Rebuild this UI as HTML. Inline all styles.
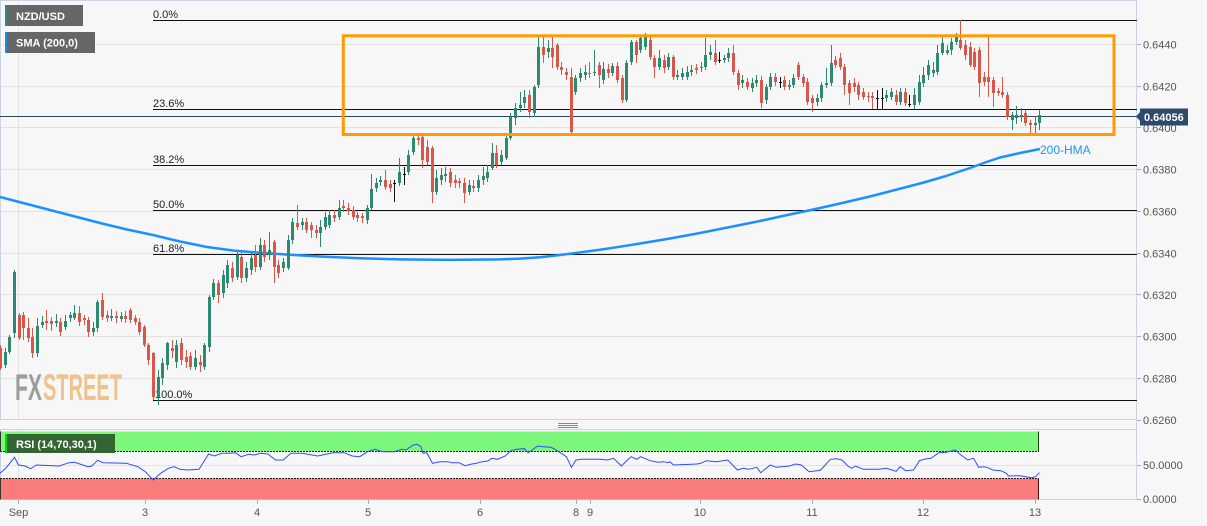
<!DOCTYPE html>
<html><head><meta charset="utf-8">
<style>
html,body{margin:0;padding:0;background:#f7f7f7;}
svg{display:block;font-family:"Liberation Sans",Arial,sans-serif;}
</style></head><body>
<svg width="1207" height="526" viewBox="0 0 1207 526" xmlns="http://www.w3.org/2000/svg">
<rect width="1207" height="526" fill="#f7f7f7"/>
<!-- grid -->
<g stroke="#e3e3e3" stroke-width="1" fill="none">
<path d="M0 44.5H1137M0 86.5H1137M0 127.5H1137M0 169.5H1137M0 211.5H1137M0 253.5H1137M0 294.5H1137M0 336.5H1137M0 378.5H1137"/>
<path d="M18.5 0V420M18.5 430V500"/>
<path d="M0 465.5H1137"/>
</g>
<!-- frames -->
<g stroke="#ccd4e4" stroke-width="1" fill="none">
<path d="M0.5 0V420M0 0.5H1137M1136.5 0V500M0 419.5H1137M0 429.5H1137M0 499.5H1137M0.5 430V500"/>
</g>
<path d="M558 423.5H578M558 425.5H578M558 427.5H578" stroke="#888" stroke-width="1"/>

<!-- fib lines -->
<path d="M153 20.5H1137M153 109.5H1137M153 165.5H1137M153 210.5H1137M153 254.5H1137M153 400.5H1137" stroke="#111" stroke-width="1"/>
<g font-size="11" fill="#222">
<text x="153" y="18">0.0%</text>
<text x="153" y="107">23.6%</text>
<text x="153" y="163">38.2%</text>
<text x="153" y="208">50.0%</text>
<text x="153" y="252">61.8%</text>
<text x="155" y="398">100.0%</text>
</g>

<!-- FXSTREET watermark -->
<g font-weight="bold" font-size="37">
<text x="15" y="400" fill="#9d9d9d" textLength="27" lengthAdjust="spacingAndGlyphs">FX</text>
<text x="43" y="400" fill="#f0c28e" textLength="79" lengthAdjust="spacingAndGlyphs">STREET</text>
</g>

<!-- SMA / HMA line -->
<path d="M0 197L25 203.5L50 210L75 216.5L100 223L127 229.5L153 235L180 241.5L207 247L233 250.5L260 252.8L290 254.8L320 256.5L360 258.3L400 259.4L450 259.9L500 259.4L520 258.6L540 257.2L555 255.6L570 253.7L585 251.8L600 249.8L620 246.7L640 243.5L670 238.5L700 233L730 227L760 221L785 215.5L811 210L840 203.5L870 196.5L895 190L922 183L946 176L970 168L985 162.5L1000 157.5L1020 153L1040 149" fill="none" stroke="#1e8fff" stroke-width="2.5" stroke-linejoin="round"/>
<text x="1040" y="154" font-size="12" fill="#2196f3">200-HMA</text>

<!-- current price line -->
<path d="M0 116.5H1137" stroke="#2c4a6e" stroke-width="1"/>

<!-- candles -->
<g fill="none">
<path stroke="#2e8a6e" stroke-width="1" d="M5.5 348V368 M9.5 335V354 M14.5 270V338 M37.5 318V357 M42.5 316V328 M56.5 314V327 M65.5 315V330 M70.5 312V322 M74.5 305V320 M93.5 322V336 M97.5 300V332 M111.5 309V321 M121.5 312V322 M158.5 370V405 M162.5 358V385 M167.5 342V370 M176.5 340V368 M195.5 350V370 M204.5 343V370 M209.5 295V352 M213.5 279V300 M223.5 270V298 M227.5 260V288 M237.5 252V280 M246.5 262V282 M251.5 252V275 M260.5 238V270 M269.5 232V260 M283.5 258V272 M288.5 235V270 M292.5 218V244 M302.5 218V230 M320.5 220V247 M325.5 212V230 M329.5 210V228 M339.5 200V220 M367.5 205V224 M371.5 174V210 M376.5 178V192 M380.5 176V186 M399.5 158V186 M408.5 150V175 M413.5 133V155 M436.5 170V195 M441.5 168V185 M445.5 167V182 M469.5 180V195 M478.5 175V192 M483.5 167V185 M487.5 165V182 M492.5 143V170 M501.5 150V165 M506.5 135V160 M510.5 113V140 M515.5 103V125 M520.5 92V112 M524.5 90V108 M534.5 85V117 M538.5 37V88 M548.5 40V58 M575.5 75V95 M580.5 68V82 M585.5 65V80 M594.5 50V76 M603.5 62V84 M612.5 63V76 M626.5 60V102 M631.5 40V65 M640.5 35V53 M645.5 33V50 M659.5 50V70 M668.5 53V70 M677.5 70V80 M682.5 68V80 M687.5 66V80 M691.5 65V76 M701.5 62V72 M705.5 38V70 M710.5 45V60 M724.5 55V63 M728.5 48V62 M742.5 75V88 M752.5 78V92 M756.5 75V87 M766.5 84V104 M770.5 73V90 M789.5 80V90 M793.5 74V88 M817.5 94V106 M821.5 82V102 M826.5 68V88 M831.5 45V86 M886.5 90V102 M891.5 88V100 M900.5 88V105 M914.5 88V109 M919.5 75V105 M923.5 67V87 M928.5 60V80 M933.5 62V77 M937.5 45V75 M942.5 35V55 M947.5 45V55 M951.5 38V55 M956.5 33V45 M1012.5 112V130 M1016.5 106V124 M1021.5 108V122 M1035.5 116V133 M1039.5 110V130"/>
<path stroke="#2e8a6e" stroke-width="3" d="M5.5 352V365 M9.5 337V352 M14.5 272V333 M37.5 326V353 M42.5 322V325 M56.5 321V323 M65.5 321V327 M70.5 315V318 M74.5 313V318 M93.5 328V332 M97.5 302V328 M111.5 316V318 M121.5 316V319 M158.5 377V397 M162.5 363V378 M167.5 343V365 M176.5 345V362 M195.5 358V367 M204.5 345V367 M209.5 297V347 M213.5 283V297 M223.5 275V293 M227.5 265V283 M237.5 255V277 M246.5 268V278 M251.5 258V270 M260.5 245V267 M269.5 250V255 M283.5 262V268 M288.5 240V268 M292.5 222V240 M302.5 222V225 M320.5 227V233 M325.5 217V227 M329.5 215V225 M339.5 208V217 M367.5 208V220 M371.5 189V208 M376.5 183V188 M380.5 180V182 M399.5 172V183 M408.5 155V172 M413.5 138V152 M436.5 178V192 M441.5 175V180 M445.5 174V176 M469.5 185V192 M478.5 180V188 M483.5 176V180 M487.5 172V178 M492.5 153V168 M501.5 155V162 M506.5 138V158 M510.5 117V138 M515.5 108V118 M520.5 105V108 M524.5 97V103 M534.5 87V113 M538.5 47V85 M548.5 48V52 M575.5 78V92 M580.5 73V78 M585.5 72V75 M594.5 72V73 M603.5 69V80 M612.5 66V73 M626.5 63V100 M631.5 42V62 M640.5 38V50 M645.5 37V47 M659.5 58V67 M668.5 57V67 M677.5 75V77 M682.5 73V77 M687.5 72V77 M691.5 70V72 M701.5 67V68 M705.5 55V67 M710.5 52V55 M724.5 58V60 M728.5 53V58 M742.5 80V83 M752.5 83V88 M756.5 80V83 M766.5 87V100 M770.5 77V87 M789.5 85V87 M793.5 78V85 M817.5 98V102 M821.5 85V98 M826.5 83V85 M831.5 63V83 M886.5 95V98 M891.5 92V97 M900.5 92V102 M914.5 95V105 M919.5 82V102 M923.5 75V83 M928.5 65V75 M933.5 70V73 M937.5 53V72 M942.5 43V53 M947.5 50V53 M951.5 42V50 M956.5 37V42 M1012.5 115V120 M1016.5 115V118 M1021.5 115V117 M1035.5 123V125 M1039.5 115V123"/>
<path stroke="#d9574a" stroke-width="1" d="M0.5 345V370 M19.5 313V340 M23.5 312V340 M28.5 318V342 M32.5 328V358 M46.5 310V330 M51.5 317V331 M60.5 318V336 M79.5 306V326 M84.5 315V325 M88.5 317V337 M102.5 293V320 M107.5 311V322 M116.5 311V323 M125.5 311V323 M130.5 308V323 M135.5 315V325 M139.5 318V335 M144.5 325V347 M148.5 343V365 M153.5 352V400 M172.5 340V358 M181.5 338V365 M186.5 350V368 M190.5 352V370 M200.5 355V372 M218.5 280V303 M232.5 262V282 M241.5 252V283 M255.5 245V272 M264.5 240V262 M274.5 240V283 M278.5 260V278 M297.5 205V230 M306.5 218V233 M311.5 222V238 M316.5 225V238 M334.5 210V222 M343.5 200V212 M348.5 203V215 M353.5 206V220 M357.5 212V222 M362.5 213V223 M385.5 170V190 M390.5 180V192 M418.5 134V145 M422.5 133V168 M427.5 140V165 M432.5 146V203 M450.5 168V187 M455.5 175V188 M459.5 178V188 M464.5 178V203 M473.5 180V192 M496.5 145V168 M529.5 90V118 M543.5 37V63 M552.5 37V68 M557.5 43V70 M561.5 62V75 M566.5 68V80 M571.5 68V133 M589.5 62V78 M599.5 62V88 M608.5 64V78 M617.5 62V83 M622.5 75V103 M636.5 40V63 M650.5 37V60 M654.5 55V78 M664.5 55V73 M673.5 55V80 M696.5 64V74 M715.5 40V65 M733.5 45V75 M738.5 70V90 M747.5 78V90 M761.5 76V108 M775.5 73V86 M784.5 76V90 M798.5 62V80 M803.5 74V87 M807.5 78V105 M812.5 95V112 M835.5 56V68 M840.5 53V70 M844.5 64V95 M849.5 80V105 M854.5 78V92 M858.5 82V100 M863.5 88V100 M868.5 92V102 M872.5 92V109 M896.5 90V105 M905.5 88V106 M960.5 20V50 M965.5 40V60 M970.5 42V67 M974.5 48V70 M979.5 47V97 M984.5 72V86 M988.5 35V97 M993.5 77V107 M998.5 88V96 M1002.5 77V98 M1007.5 92V120 M1025.5 110V126 M1030.5 120V133"/>
<path stroke="#d9574a" stroke-width="3" d="M0.5 348V368 M19.5 315V338 M23.5 315V328 M28.5 328V338 M32.5 337V353 M46.5 321V323 M51.5 321V324 M60.5 322V332 M79.5 313V322 M84.5 318V320 M88.5 320V332 M102.5 300V317 M107.5 315V318 M116.5 316V318 M125.5 316V319 M130.5 310V320 M135.5 318V322 M139.5 322V332 M144.5 327V345 M148.5 345V360 M153.5 353V397 M172.5 348V351 M181.5 343V360 M186.5 357V362 M190.5 356V367 M200.5 362V365 M218.5 283V295 M232.5 268V278 M241.5 257V278 M255.5 255V267 M264.5 245V257 M274.5 242V267 M278.5 265V273 M297.5 223V227 M306.5 222V230 M311.5 225V230 M316.5 230V233 M334.5 215V218 M343.5 206V208 M348.5 208V211 M353.5 210V217 M357.5 215V218 M362.5 216V218 M385.5 180V187 M390.5 184V188 M418.5 138V140 M422.5 137V160 M427.5 147V162 M432.5 148V192 M450.5 172V183 M455.5 180V183 M459.5 181V183 M464.5 183V193 M473.5 186V188 M496.5 153V165 M529.5 95V112 M543.5 47V55 M552.5 48V57 M557.5 45V67 M561.5 67V70 M566.5 72V75 M571.5 77V132 M589.5 73V74 M599.5 65V75 M608.5 69V73 M617.5 66V80 M622.5 78V100 M636.5 42V55 M650.5 40V57 M654.5 58V67 M664.5 60V68 M673.5 57V77 M696.5 68V70 M715.5 53V62 M733.5 53V72 M738.5 73V85 M747.5 82V87 M761.5 80V103 M775.5 77V82 M784.5 80V87 M798.5 65V77 M803.5 77V83 M807.5 82V102 M812.5 98V103 M835.5 60V65 M840.5 58V67 M844.5 67V85 M849.5 83V93 M854.5 83V87 M858.5 85V95 M863.5 92V97 M868.5 96V97 M872.5 96V98 M896.5 95V102 M905.5 92V103 M960.5 40V48 M965.5 45V55 M970.5 47V65 M974.5 52V67 M979.5 50V83 M984.5 77V82 M988.5 77V82 M993.5 80V93 M998.5 91V93 M1002.5 92V95 M1007.5 95V117 M1025.5 113V123 M1030.5 123V125"/>
<path stroke="#111" stroke-width="1" d="M394.5 180V202 M404.5 167V185 M719.5 52V63 M780.5 77V88 M877.5 90V109 M882.5 88V109 M909.5 95V107"/>
<path stroke="#111" stroke-width="3" d="M394.5 183V184 M404.5 174V175 M719.5 60V61 M780.5 82V83 M877.5 98V99 M882.5 98V99 M909.5 104V105"/>
</g>

<!-- orange rectangle -->
<rect x="343.3" y="35.8" width="770.7" height="98.7" fill="none" stroke="#ff9a00" stroke-width="3"/>

<!-- legends -->
<rect x="5" y="5" width="78" height="21" fill="#666"/>
<rect x="5" y="5" width="2" height="21" fill="#2e8a6e"/>
<text x="16" y="20" font-size="11" font-weight="bold" fill="#fff">NZD/USD</text>
<rect x="5" y="32" width="90" height="21" fill="#666"/>
<rect x="5" y="32" width="2" height="21" fill="#1e88e5"/>
<text x="16" y="46.5" font-size="11" font-weight="bold" fill="#fff">SMA (200,0)</text>

<!-- right axis -->
<g stroke="#aab" stroke-width="1">
<path d="M1137 44.5H1141M1137 86.5H1141M1137 127.5H1141M1137 169.5H1141M1137 211.5H1141M1137 253.5H1141M1137 294.5H1141M1137 336.5H1141M1137 378.5H1141M1137 420.5H1141M1137 465.5H1141M1137 499.5H1141"/>
</g>
<g font-size="11" fill="#555">
<text x="1143" y="48.5">0.6440</text>
<text x="1143" y="90.5">0.6420</text>
<text x="1143" y="132">0.6400</text>
<text x="1143" y="173.5">0.6380</text>
<text x="1143" y="215.5">0.6360</text>
<text x="1143" y="257.5">0.6340</text>
<text x="1143" y="299">0.6320</text>
<text x="1143" y="340.5">0.6300</text>
<text x="1143" y="382.5">0.6280</text>
<text x="1143" y="424">0.6260</text>
<text x="1143" y="469">50.0000</text>
<text x="1143" y="503">0.0000</text>
</g>
<path d="M1136 116.5L1141 111L1141 122Z" fill="#2c4a6e"/>
<rect x="1140" y="108.5" width="48" height="17" fill="#2c4a6e"/>
<text x="1144" y="121" font-size="11" font-weight="bold" fill="#fff">0.64056</text>

<!-- RSI pane -->
<rect x="0" y="431.5" width="1039" height="20" fill="#7cf77c"/>
<rect x="0" y="478.5" width="1039" height="21" fill="#fa7b7b"/>
<path d="M0 451.5H1039M0 478.5H1039" stroke="#222" stroke-width="1" stroke-dasharray="2,1"/>
<path d="M1038.5 431.5V451.5" stroke="#1b3d1b" stroke-width="1"/>
<path d="M1038.5 478.5V499.5" stroke="#3d1111" stroke-width="1"/>
<path d="M0.5 431.5V451.5M0.5 478.5V499.5" stroke="#333" stroke-width="1"/>
<polyline fill="none" stroke="#2f4cff" stroke-width="1" points="0,473.3 5.7,468.3 14.5,457.3 18.4,465 24.9,466 30.6,468.7 36.4,465 53.6,465.7 59.3,466 68.9,462.7 74.6,462.3 88,466.7 91.8,466 97.6,460.3 103.3,462.7 126.3,463.3 137.8,466.7 145.4,471.7 153.1,480 160.7,473.3 168.4,468.3 174.1,466.7 179.9,469.3 187.5,470 199,469.3 208.6,454 214.3,456 222,453.3 229.6,453.3 235.4,452.7 241.1,456.7 248.8,454.3 254.5,455 260.2,453.3 267.9,454 275.5,460 283.2,460 290.9,453.3 302.3,453.3 317.6,456 333,452.7 344.4,452.7 352.1,456 359.7,456.7 367.4,451.7 375,449.3 382.7,451.7 394.2,451.7 401.8,449.3 405.7,450 413.3,445 417.1,444.3 421,446.7 422.9,453.3 426.7,452.7 432.5,463.3 440.1,461.7 447.8,461.7 451.6,462.7 459.2,462.7 465,465.7 470.7,464.3 476.5,463.3 482.2,461.7 487.9,461 491.8,458.3 497.5,459.3 505.2,456 510.9,450.7 516.6,449.3 524.3,448.7 528.1,452.7 532,450 537.7,446 543.4,446.7 551.1,447.3 554.9,449.3 558.8,451.7 566.4,456.7 571.4,467.3 576,460 581.7,459.3 597,459.3 600,459.3 607.7,460 613.6,458.3 621.3,466 631,456.7 636.8,459.3 640.7,456.7 650.3,460.7 658.1,462.3 663.9,461.7 667.8,462.7 669.7,461.7 673.6,465 696.8,464 700.7,463.3 706.5,460.7 716.1,461.7 727.8,460 737.4,470 743.2,468.3 749,469.3 756.8,467.3 760.7,472.7 770.3,465 776.2,467.3 789.7,466 795.5,464 801.3,465 809.1,471.7 816.8,470.7 820.7,470 830.4,459.3 836.2,458.7 842,460 847.8,466 851.6,468.3 855.5,466 863.3,469.3 878.7,469.3 886.5,468.3 896.2,471.3 900,466.7 905.8,470.7 913.6,470 919.4,460.7 925.2,459 931,458.3 938.8,452.7 946.5,452.3 952.3,450.7 955.4,450 960,454.3 967.8,460 973.6,458.3 978.6,467.3 983.3,466.7 987.1,467.3 992.9,470 1000.7,470.7 1006.5,473.3 1008.4,476 1020,475.7 1025.9,476.7 1031.7,477.7 1035.5,476.7 1039.4,472.7"/>
<rect x="5" y="434" width="110" height="19" fill="#2f5d2f" fill-opacity="0.95"/>
<rect x="5" y="434" width="2" height="19" fill="#00dd00"/>
<text x="16" y="448" font-size="11" font-weight="bold" fill="#fff">RSI (14,70,30,1)</text>

<!-- x axis -->
<path d="M18.5 500V504M145.5 500V504M257.5 500V504M368.5 500V504M480.5 500V504M576.5 500V504M590.5 500V504M700.5 500V504M812.5 500V504M923.5 500V504M1035.5 500V504" stroke="#aab" stroke-width="1"/>
<g font-size="11" fill="#555" text-anchor="middle">
<text x="18.5" y="516">Sep</text>
<text x="145" y="516">3</text>
<text x="257" y="516">4</text>
<text x="368" y="516">5</text>
<text x="480" y="516">6</text>
<text x="576" y="516">8</text>
<text x="590" y="516">9</text>
<text x="700" y="516">10</text>
<text x="812" y="516">11</text>
<text x="923" y="516">12</text>
<text x="1035" y="516">13</text>
</g>
</svg>
</body></html>
